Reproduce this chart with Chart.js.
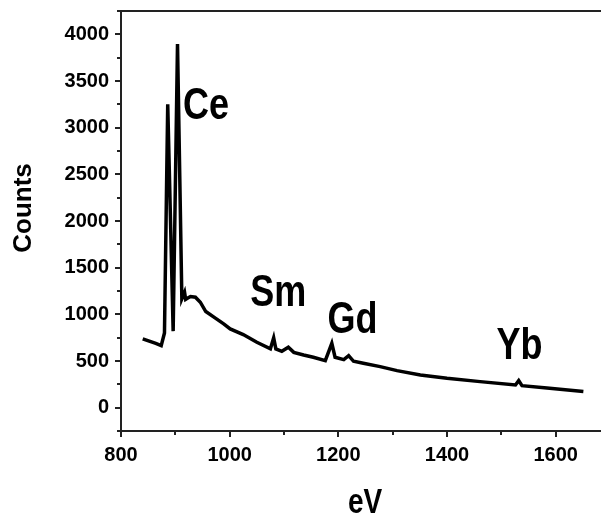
<!DOCTYPE html>
<html>
<head>
<meta charset="utf-8">
<script src="https://cdn.jsdelivr.net/npm/chart.js@4.4.1/dist/chart.umd.min.js"></script>
<style>
  html, body { margin: 0; padding: 0; overflow: hidden; background: #fff; }
</style>
</head>
<body>
<canvas id="chart" width="612" height="516"></canvas>
<script>
// spectrum
const energyEV = [840, 852, 864, 874, 880, 886, 896, 904, 912, 917, 919, 923, 928, 937,
  946, 956, 973, 989, 1001, 1025, 1050, 1075, 1081, 1085, 1096, 1108, 1118, 1136, 1154,
  1176, 1188, 1194, 1210, 1219, 1228, 1246, 1277, 1308, 1351, 1400, 1461, 1526, 1532,
  1538, 1584, 1651];
const counts = [737, 712, 688, 665, 800, 3250, 820, 3895, 1166, 1237, 1160, 1175, 1191,
  1184, 1130, 1030, 962, 898, 844, 783, 701, 630, 748, 630, 604, 647, 593, 565, 540, 504,
  690, 540, 515, 558, 497, 475, 440, 397, 351, 314, 279, 243, 290, 236, 211, 172];

const xTicks = [800, 1000, 1200, 1400, 1600];
const yTicks = [0, 500, 1000, 1500, 2000, 2500, 3000, 3500, 4000];
const elements = ["Ce", "Sm", "Gd", "Yb"];
const xTitle = "eV";
const yTitle = "Counts";

// where the element names sit (data units: eV, counts)
const elementAt = [[914, 3090], [1038, 1094], [1180, 805], [1491, 526]];

const axisColor = "#222";
const sans = "'Liberation Sans', Arial, sans-serif";
const tickFont = { family: sans, size: 20, weight: "bold" };

// no narrow font installed, so squeeze the regular one
function narrowText(ctx, text, x, y, size, align) {
  ctx.save();
  ctx.font = "bold " + size + "px " + sans;
  ctx.textAlign = align || "left";
  ctx.textBaseline = "alphabetic";
  ctx.translate(x, y);
  ctx.scale(0.8, 1);
  ctx.fillText(text, 0, 0);
  ctx.restore();
}

// minor ticks, frame, titles and element labels
const extrasPlugin = {
  id: "extras",
  afterDraw(chart) {
    const { ctx, chartArea } = chart;
    const xs = chart.scales.x;
    const ys = chart.scales.y;
    ctx.save();
    ctx.strokeStyle = axisColor;
    ctx.lineWidth = 2;
    ctx.beginPath();
    for (let v = -250; v <= 4250; v += 500) {
      const py = Math.round(ys.getPixelForValue(v));
      ctx.moveTo(chartArea.left - 4, py);
      ctx.lineTo(chartArea.left, py);
    }
    for (let v = 900; v <= 1700; v += 200) {
      const px = Math.round(xs.getPixelForValue(v));
      ctx.moveTo(px, chartArea.bottom);
      ctx.lineTo(px, chartArea.bottom + 4);
    }
    ctx.moveTo(chartArea.left - 1, chartArea.top);
    ctx.lineTo(chartArea.right, chartArea.top);
    ctx.lineTo(chartArea.right, chartArea.bottom);
    ctx.stroke();

    ctx.fillStyle = "#000";
    elements.forEach((name, i) => {
      narrowText(ctx, name, xs.getPixelForValue(elementAt[i][0]), ys.getPixelForValue(elementAt[i][1]), 45);
    });

    // axis titles
    narrowText(ctx, xTitle, 365, 513, 35, "center");
    ctx.save();
    ctx.font = "bold 26px " + sans;
    ctx.textAlign = "center";
    ctx.textBaseline = "middle";
    ctx.translate(24, 208);
    ctx.rotate(-Math.PI / 2);
    ctx.fillText(yTitle, 0, 0);
    ctx.restore();
    ctx.restore();
  },
};

function setupChart() {
  const ctx = document.getElementById("chart").getContext("2d");
  new Chart(ctx, {
    type: "line",
    data: {
      datasets: [
        {
          data: energyEV.map((e, i) => ({ x: e, y: counts[i] })),
          borderColor: "#000",
          borderWidth: 3.5,
          pointRadius: 0,
          tension: 0,
          fill: false,
          borderJoinStyle: "miter",
        },
      ],
    },
    options: {
      responsive: false,
      animation: false,
      events: [],
      layout: { padding: { top: 11, right: 2, left: 0, bottom: 0 } },
      plugins: { legend: { display: false }, tooltip: { enabled: false } },
      scales: {
        x: {
          type: "linear",
          min: 800,
          max: 1700,
          afterBuildTicks: (s) => { s.ticks = xTicks.map((v) => ({ value: v })); },
          afterFit: (s) => { s.height = 85; s.paddingLeft = 0; s.paddingRight = 0; },
          grid: { drawOnChartArea: false, color: axisColor, lineWidth: 2, tickLength: 6 },
          border: { color: axisColor, width: 2 },
          ticks: { color: "#000", font: tickFont, padding: 6, maxRotation: 0, callback: (v) => String(v) },
        },
        y: {
          type: "linear",
          min: -250,
          max: 4250,
          afterBuildTicks: (s) => { s.ticks = yTicks.map((v) => ({ value: v })); },
          afterFit: (s) => { s.width = 121; s.paddingTop = 0; s.paddingBottom = 0; },
          grid: { drawOnChartArea: false, color: axisColor, lineWidth: 2, tickLength: 6 },
          border: { color: axisColor, width: 2 },
          ticks: { color: "#000", font: tickFont, padding: 6, callback: (v) => String(v) },
        },
      },
    },
    plugins: [extrasPlugin],
  });
}

document.addEventListener("DOMContentLoaded", setupChart);
</script>
</body>
</html>
